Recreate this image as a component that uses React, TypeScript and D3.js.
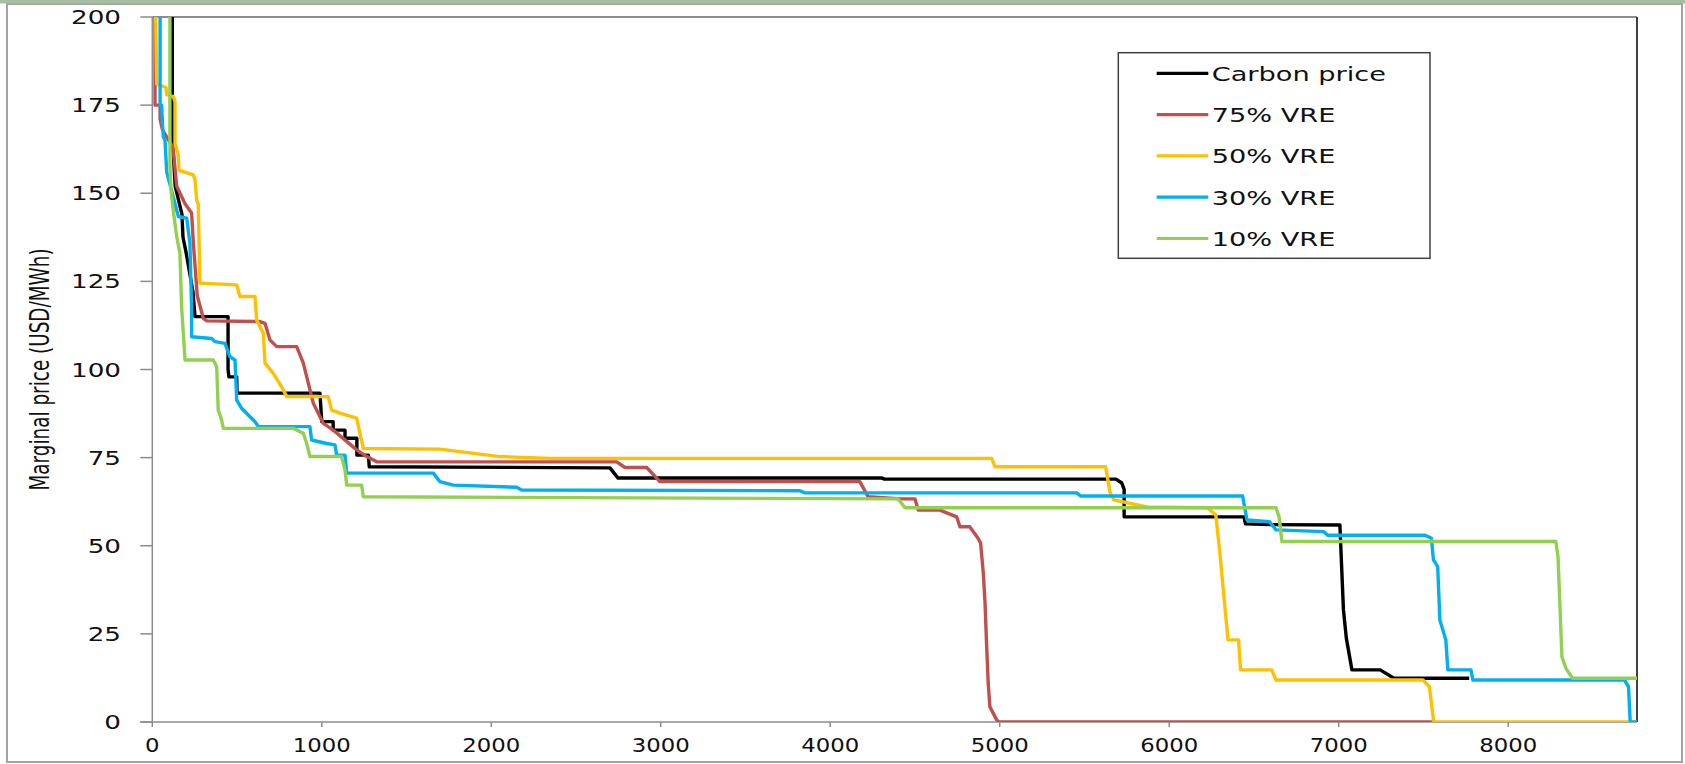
import React from 'react';
import * as d3 from 'd3';

// constants
const width = 1685;
const height = 764;
const margin = { top: 17, right: 48, bottom: 42, left: 152.3 };
const innerWidth = width - margin.left - margin.right;
const innerHeight = height - margin.top - margin.bottom;
const font = '"DejaVu Sans", sans-serif';

// data: [hour of year, marginal price USD/MWh]
const carbonPrice = [
  [118, 200], [118, 179], [120, 168], [122, 163], [135, 152], [165, 146], [175, 144],
  [181, 137.6], [200, 133], [240, 122], [252, 115], [447, 115], [447, 100], [452, 97.9],
  [498, 97.9], [500, 93.3], [989, 93.3], [1000, 85.2], [1067, 85.2], [1067, 82.8],
  [1137, 82.8], [1137, 80.5], [1207, 80.5], [1207, 75.7], [1275, 75.7], [1280, 72.4],
  [2700, 72.1], [2748, 69.2], [4305, 69.2], [4320, 68.9], [5686, 68.9], [5720, 67.8],
  [5734, 66], [5734, 58.2], [6441, 58.2], [6450, 56.2], [6594, 56], [7007, 55.9],
  [7028, 31.8], [7045, 23.8], [7078, 14.8], [7245, 14.8], [7326, 12.4], [7770, 12.4],
];
const vre75 = [
  [16, 200], [16, 175], [46, 175], [46, 171], [60, 168], [122, 163], [144, 152], [193, 147],
  [232, 144.4], [242, 136], [265, 121], [301, 114.5], [321, 113.8], [635, 113.6], [665, 113.1],
  [694, 108.4], [734, 106.5], [852, 106.5], [891, 101.8], [950, 90.4], [1009, 84.7],
  [1068, 82.8], [1206, 77.2], [1265, 75.3], [1324, 73.8], [2740, 73.8], [2789, 72.2],
  [2917, 72.2], [2995, 68.2], [4175, 68.2], [4223, 63.9], [4421, 63.3], [4500, 63.3],
  [4519, 60.1], [4647, 60.1], [4746, 58.2], [4765, 55.4], [4823, 55.4], [4871, 52.2],
  [4887, 50.8], [4903, 42.3], [4913, 34.1], [4923, 21.4], [4932, 11], [4942, 4.3],
  [4982, 0.6], [4995, 0], [7550, 0],
];
const vre50 = [
  [20, 200], [26, 181], [81, 180], [85, 178], [124, 177.4], [134, 176], [134, 164],
  [153, 161], [158, 156.5], [242, 155.2], [252, 153.8], [262, 148], [271, 147], [281, 124.5],
  [498, 124], [517, 120.7], [606, 120.7], [616, 114], [655, 110.3], [665, 101.8], [714, 98.9],
  [763, 95.1], [793, 92.3], [1038, 92.3], [1058, 88.5], [1107, 87.6], [1206, 86.2],
  [1225, 81.9], [1245, 77.6], [1697, 77.4], [2051, 75.3], [2346, 74.8], [4952, 74.8],
  [4972, 72.4], [5625, 72.4], [5650, 65.3], [5673, 63], [5870, 61], [6225, 60.8],
  [6275, 58.7], [6299, 47.9], [6323, 35.5], [6347, 23.3], [6409, 23.3], [6421, 14.8],
  [6605, 14.8], [6630, 11.9], [7497, 11.9], [7535, 10], [7559, 0.6], [7565, 0], [8760, 0],
];
const vre30 = [
  [46, 200], [46, 175], [55, 175], [60, 170], [65, 166], [75, 165], [85, 156], [154, 143.4],
  [203, 142.9], [222, 135.8], [232, 117], [232, 109.3], [350, 108.8], [370, 107.9],
  [429, 107.4], [458, 103.6], [488, 102.7], [498, 91.3], [527, 89], [566, 87.1], [606, 85.2],
  [626, 83.8], [930, 83.8], [940, 80], [1029, 79], [1078, 78.6], [1088, 75.7], [1137, 75.7],
  [1147, 70.6], [1658, 70.6], [1697, 68.2], [1776, 67.2], [2150, 66.6], [2179, 65.8],
  [3821, 65.6], [3850, 65], [5454, 65], [5479, 64.1], [6433, 64.1], [6459, 57.3],
  [6592, 56.8], [6630, 54.5], [6911, 54], [6935, 53], [7510, 53], [7547, 52.1], [7559, 46],
  [7584, 44.1], [7597, 28.9], [7632, 23.3], [7644, 14.8], [7780, 14.8], [7792, 11.9],
  [8686, 11.9], [8710, 10], [8720, 0], [8760, 0],
];
const vre10 = [
  [104, 200], [104, 158], [110, 151], [124, 145], [144, 137.7], [163, 133], [173, 117.8],
  [193, 102.7], [360, 102.7], [380, 100.8], [389, 88.5], [409, 85.7], [419, 83.3],
  [832, 83.3], [891, 81.9], [911, 79], [930, 75.3], [1117, 75.3], [1137, 71.5], [1147, 67.2],
  [1235, 67.2], [1245, 63.9], [4401, 63.3], [4441, 60.8], [6630, 60.8], [6648, 58.2],
  [6665, 51.2], [8281, 51.2], [8294, 46.9], [8317, 18.5], [8341, 15.2], [8379, 12.4],
  [8760, 12.4],
];

const seriesNames = ['Carbon price', '75% VRE', '50% VRE', '30% VRE', '10% VRE'];
const seriesData = [carbonPrice, vre75, vre50, vre30, vre10];
const colours = ['#000000', '#c0504d', '#ffc000', '#00b0f0', '#92d050'];

const xTicks = [0, 1000, 2000, 3000, 4000, 5000, 6000, 7000, 8000];
const yTicks = [0, 25, 50, 75, 100, 125, 150, 175, 200];
const yTitle = 'Marginal price (USD/MWh)';

const App = () => {
  // scales
  const xScale = d3.scaleLinear().domain([0, 8760]).range([0, innerWidth]);
  const yScale = d3.scaleLinear().domain([0, 200]).range([innerHeight, 0]);
  const line = d3.line<number[]>()
    .x(d => xScale(d[0]))
    .y(d => yScale(d[1]));

  const axisColour = '#8c8c8c';
  const legend = { x: 1118.3, y: 52.7, w: 311.7, h: 205.6, row: 41.3 };

  return (
    <div style={{ position: 'absolute', left: 0, top: 0 }}>
      <svg width={width} height={height} style={{ display: 'block', background: '#fff' }}>
        <defs>
          <clipPath id="plot-clip">
            <rect x={0} y={0} width={innerWidth} height={innerHeight} />
          </clipPath>
        </defs>

        {/* outer frame */}
        <rect x={7} y={4} width={1675} height={758} fill="#fff" stroke="#a3a3a3" strokeWidth={2} />
        <rect x={0} y={0} width={width} height={3.5} fill="#a8bea2" />

        <g transform={`translate(${margin.left},${margin.top})`}>
          {/* plot border top / right */}
          <line x1={0} x2={innerWidth} y1={0} y2={0} stroke="#1a1a1a" strokeWidth={1.2} />
          <line x1={innerWidth} x2={innerWidth} y1={0} y2={innerHeight} stroke="#404040" strokeWidth={2} />

          {/* y axis */}
          <line x1={0} x2={0} y1={0} y2={innerHeight} stroke={axisColour} strokeWidth={1.5} />
          {yTicks.map(t => (
            <g key={t} transform={`translate(0,${yScale(t)})`}>
              <line x1={-12} x2={0} stroke={axisColour} strokeWidth={1.5} />
              <text
                transform={`translate(${121 - margin.left},7) scale(1.38,1)`}
                textAnchor="end" fontFamily={font} fontSize={19} fill="#111">{t}</text>
            </g>
          ))}

          {/* x axis */}
          <line x1={-12} x2={innerWidth} y1={innerHeight} y2={innerHeight} stroke={axisColour} strokeWidth={1.5} />
          {xTicks.map(t => (
            <g key={t} transform={`translate(${xScale(t)},${innerHeight})`}>
              <line y1={0} y2={5} stroke={axisColour} strokeWidth={1.5} />
              <text transform="translate(0,30) scale(1.2,1)"
                textAnchor="middle" fontFamily={font} fontSize={19} fill="#111">{t}</text>
            </g>
          ))}

          {/* series */}
          <g clipPath="url(#plot-clip)">
            {seriesData.map((d, i) => (
              <path key={seriesNames[i]} d={line(d) || ''} fill="none" stroke={colours[i]}
                strokeWidth={3.4} strokeLinejoin="round" />
            ))}
          </g>
        </g>

        {/* y axis title */}
        <text transform={`translate(49,${margin.top + innerHeight / 2}) scale(1.45,1) rotate(-90)`}
          textAnchor="middle" fontFamily={font} fontSize={18.4} fill="#111">{yTitle}</text>

        {/* legend */}
        <rect x={legend.x} y={legend.y} width={legend.w} height={legend.h}
          fill="#fff" stroke="#404040" strokeWidth={1.5} />
        {seriesNames.map((name, i) => {
          const cy = 73.3 + i * legend.row;
          return (
            <g key={name}>
              <line x1={1156.7} x2={1208.3} y1={cy} y2={cy} stroke={colours[i]} strokeWidth={3.2} />
              <text transform={`translate(1211.7,${cy + 7.3}) scale(1.36,1)`}
                fontFamily={font} fontSize={20} fill="#111">{name}</text>
            </g>
          );
        })}
      </svg>
    </div>
  );
};

export default App;
